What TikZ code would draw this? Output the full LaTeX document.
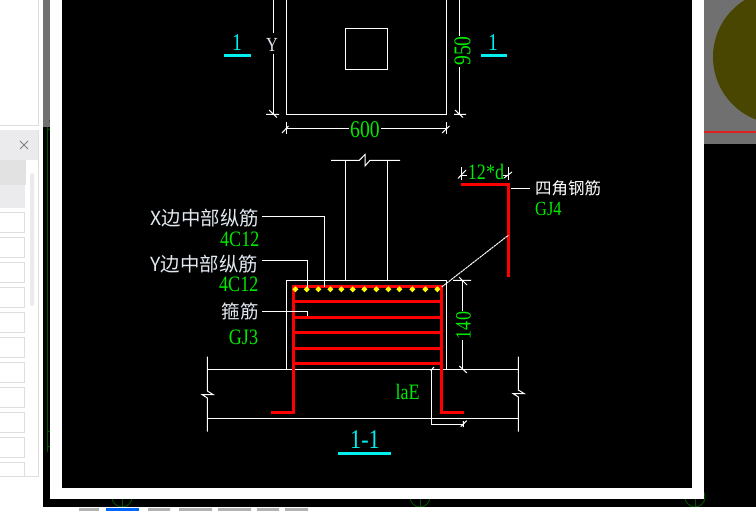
\documentclass[tikz,border=0pt]{standalone}
\usepackage{fontspec}
\setmainfont{Liberation Serif}
\newfontfamily\cjkf{Noto Sans CJK SC}
\newcommand{\cadtxt}[2][24]{{\fontsize{#1}{#1}\selectfont\scalebox{0.82}[1]{#2}}}
\newcommand{\cjktxt}[2][19.4]{{\cjkf\fontsize{#1}{#1}\selectfont #2}}
\definecolor{cadgreen}{RGB}{0,235,0}
\definecolor{cadcyan}{RGB}{0,240,240}
\definecolor{cadred}{RGB}{255,0,0}
\definecolor{cadyellow}{RGB}{255,255,0}
\definecolor{labelwhite}{RGB}{225,232,240}
\definecolor{panelgrey}{RGB}{235,235,237}
\definecolor{panelline}{RGB}{222,222,222}
\definecolor{wingrey}{RGB}{112,112,112}
\definecolor{olivedisc}{RGB}{72,70,0}
\definecolor{markgreen}{RGB}{0,85,0}
\tikzset{
  x=1pt,y=-1pt,
  cadline/.style={draw=white,line width=1pt},
  rebar/.style={draw=cadred,line width=3pt},
  greentxt/.style={text=cadgreen,inner sep=0pt},
  cyantxt/.style={text=cadcyan,inner sep=0pt},
  whitetxt/.style={text=labelwhite,inner sep=0pt},
  rowbox/.style={draw=panelline,line width=0.8pt,fill=white},
  cyanbar/.style={draw=cadcyan,line width=3pt},
  gridmark/.style={draw=markgreen,line width=0.9pt},
}
\begin{document}
\begin{tikzpicture}
\useasboundingbox (0,0) rectangle (756,511);
\fill[white] (0,0) rectangle (756,511);
% left panel
\draw[panelline,line width=0.8pt] (-2,125) -- (38.7,125);
\draw[panelline,line width=0.8pt] (38.7,0) -- (38.7,125);
\fill[panelgrey] (0,130) rectangle (38.7,160);
\draw[panelline,line width=0.8pt] (38.7,130) -- (38.7,476) -- (-2,476);
\fill[panelgrey!96!black] (0,160) rectangle (25.5,185);
\fill[panelgrey] (0,185) rectangle (25,208);
\foreach \yy in {212,237,262,287,312,337,362,387,412,437}{
  \draw[rowbox] (-2,\yy) rectangle (24.5,\yy+20);
}
\draw[rowbox] (-2,462) -- (24.5,462) -- (24.5,476);
\fill[panelgrey,rounded corners=1.5pt] (30,173) rectangle (34,306);
\draw[gray,line width=0.9pt] (20,141) -- (28,149) (28,141) -- (20,149);
% application window
\fill[black] (43,0) rectangle (756,507);
\fill[wingrey] (43,0) rectangle (50,127);
\draw[gridmark] (47,127) -- (47,452);
\draw[gridmark] (47,130) arc[start angle=90,end angle=-60,radius=5];
\draw[gridmark] (47,447) arc[start angle=90,end angle=-90,radius=8];
% right-hand window piece
\begin{scope}
\clip (703,0) rectangle (756,144);
\fill[wingrey] (703,0) rectangle (756,144);
\fill[olivedisc] (780,57) circle[radius=67];
\draw[red!75!gray,line width=1.5pt] (703,132) -- (756,132);
\end{scope}
% grid marks below the dialog
\foreach \gx in {122,420,695}{
  \draw[gridmark] (\gx,497) circle[radius=10];
  \draw[gridmark] (\gx,497) -- (\gx,507);
}
% dialog
\fill[white] (50,0) rectangle (703.5,499);
\fill[black] (61.5,0) rectangle (692,488);
\fill[white] (0,507) rectangle (756,511);
\fill[gray!60] (79,508) rectangle (99,511);
\fill[blue!60!cyan] (106,508) rectangle (139,511);
\fill[gray!60] (148,508) rectangle (170,511) (179,508) rectangle (212,511) (218,508) rectangle (251,511) (257,508) rectangle (279,511) (285,508) rectangle (308,511);
% plan view
\draw[cadline] (286.5,-2) -- (286.5,114.3) -- (446.7,114.3) -- (446.7,-2);
\draw[cadline] (345.3,28.3) rectangle (387.5,69.5);
\draw[cadline] (273.3,-2) -- (273.3,33) (273.3,54) -- (273.3,114.3);
\draw[cadline] (266,114.3) -- (279,114.3) (269,110) -- (277,117.5);
\draw[cadline] (459.3,-2) -- (459.3,36) (459.3,67) -- (459.3,114.3);
\draw[cadline] (454,114.3) -- (466,114.3) (455,110) -- (463,117.5);
\draw[cadline] (286.5,128.3) -- (349,128.3) (381,128.3) -- (446.7,128.3);
\draw[cadline] (286.5,122) -- (286.5,134) (446.7,122) -- (446.7,134);
\draw[cadline] (282,133) -- (288.5,126) (442,133) -- (449.5,126);
\node[greentxt] (dimw) at (365,130) {\cadtxt{600}};
\node[greentxt,rotate=90] (dimh) at (462.5,51) {\cadtxt{950}};
\node[whitetxt] (ylabel) at (272,44.5) {\cadtxt[20]{Y}};
\node[cyantxt] (secl) at (237,43) {\cadtxt[24]{1}};
\node[cyantxt] (secr) at (493,43) {\cadtxt[24]{1}};
\draw[cyanbar] (224,56) -- (251,56);
\draw[cyanbar] (481,56) -- (507,56);
% section: column
\draw[cadline] (331,160.3) -- (359.3,160.3) -- (365,154.5) -- (365,166) -- (370,160.3) -- (400,160.3);
\draw[cadline] (345.7,160.3) -- (345.7,280.3) (387.3,160.3) -- (387.3,280.3);
% section: beam and slab
\draw[cadline] (286.5,369.3) -- (286.5,280.3) -- (446.5,280.3) -- (446.5,369.3);
\draw[cadline] (207.3,369.3) -- (518.3,369.3) (207.3,418.3) -- (518.3,418.3);
\draw[cadline] (207.3,356.7) -- (207.3,391) -- (213,394.5) -- (202,394.5) -- (207.3,398) -- (207.3,431.7);
\draw[cadline] (518.3,356.7) -- (518.3,390) -- (524,393.5) -- (513,393.5) -- (518.3,397) -- (518.3,431.7);
% 140 dimension
\draw[cadline] (462.7,280.3) -- (462.7,311) (462.7,340) -- (462.7,369.3);
\draw[cadline] (453,280.3) -- (471,280.3) (459,277) -- (467,285) (459.3,366) -- (467,373);
\node[greentxt,rotate=90] (dimv) at (463.5,325.5) {\cadtxt[22]{140}};
% laE dimension
\draw[cadline] (431.3,369.3) -- (431.3,424.7) -- (463.3,424.7);
\draw[cadline] (430.7,370.7) -- (434,367) (460.7,426.7) -- (466.7,420.7) (463.3,421) -- (463.3,427);
\node[greentxt] (lae) at (407.7,392) {\cadtxt[22]{laE}};
% rebars
\draw[rebar] (271,412.3) -- (293.3,412.3) -- (293.3,286.7) -- (441.7,286.7) -- (441.7,412.3) -- (463.5,412.3);
\foreach \yy in {301,317.3,332.3,348.3,363.3}{
  \draw[rebar] (293.3,\yy) -- (441.7,\yy);
}
\foreach \xx in {295.3,306.7,318.3,330.3,341.3,352.7,364.3,376.3,388.3,399.3,412.3,425.3,437.3}{
  \fill[cadyellow] (\xx-3,289.3) -- (\xx,286.3) -- (\xx+3,289.3) -- (\xx,292.3) -- cycle;
}
% leaders
\draw[cadline] (262,216.3) -- (324.3,216.3) -- (324.3,287);
\draw[cadline] (262,260.3) -- (307.3,260.3) -- (307.3,288);
\draw[cadline] (262,311.3) -- (307.3,311.3) -- (307.3,316);
\node[whitetxt,anchor=east] (lx) at (259,218) {\cjktxt{X边中部纵筋}};
\node[greentxt,anchor=east] (nx) at (259.5,239) {\cadtxt[22]{4C12}};
\node[whitetxt,anchor=east] (ly) at (258,264) {\cjktxt{Y边中部纵筋}};
\node[greentxt,anchor=east] (ny) at (258.5,284) {\cadtxt[22]{4C12}};
\node[whitetxt,anchor=east] (lg) at (259,311) {\cjktxt[18.5]{箍筋}};
\node[greentxt] (gj3) at (243.5,337) {\cadtxt[22]{GJ3}};
\node[cyantxt] (sec) at (365,440) {\cadtxt[27]{1-1}};
\draw[cyanbar] (338,453) -- (391,453);
% corner bar detail
\draw[rebar] (461,184) -- (508.3,184) -- (508.3,277);
\draw[draw=white,line width=1pt,dash pattern=on 2.4pt off 0.6pt] (441.7,287) -- (508.3,235.3);
\draw[cadline] (461.3,167) -- (461.3,180) (508.8,167) -- (508.8,180);
\draw[cadline] (461.3,175) -- (467,175) (503,175) -- (508.8,175);
\draw[cadline] (458,178.5) -- (466,170) (504,178) -- (512,172);
\node[greentxt] (dimd) at (486,172) {\cadtxt[22]{12*d}};
\draw[cadline] (511,188.3) -- (530,188.3);
\node[text=white,inner sep=0pt,anchor=west] (lc) at (535,188) {\cjktxt[16.5]{四角钢筋}};
\node[greentxt,anchor=west] (gj4) at (535,209) {\cadtxt[20]{GJ4}};
\end{tikzpicture}
\end{document}
